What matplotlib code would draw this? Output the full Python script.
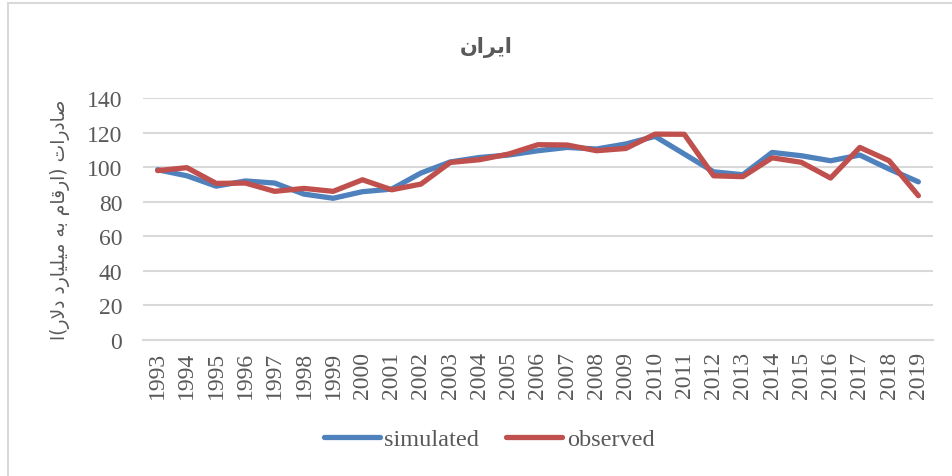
import matplotlib

matplotlib.use("Agg")
import matplotlib.pyplot as plt
from matplotlib.patches import Rectangle

years = [str(y) for y in range(1993, 2020)]
simulated = [98.5, 95, 89, 92, 90.8, 84.4, 82, 85.8, 87.3, 96.6, 103, 105.6, 107,
             109.5, 111.4, 110.5, 113.4, 117.8, 107.6, 97.3, 95.6, 108.5, 106.6,
             103.7, 107, 98.9, 91.5]
observed = [98, 99.7, 90.6, 90.8, 86, 87.7, 86, 92.7, 86.9, 90.2, 102.7, 104.3,
            107.6, 113, 112.8, 109.5, 110.8, 119.1, 119, 95, 94.5, 105.4, 102.8,
            93.7, 111.4, 103.7, 83.5]
y_ticks = [0, 20, 40, 60, 80, 100, 120, 140]

title = "ایران"
ylabel = "صادرات (ارقام به میلیارد دلار)ا"

# matplotlib does no Arabic shaping, so map letters to presentation forms
# (isolated, final, initial, medial) and lay them out in visual order
FORMS = {
    "ا": ("\uFE8D", "\uFE8E", None, None),
    "ب": ("\uFE8F", "\uFE90", "\uFE91", "\uFE92"),
    "ت": ("\uFE95", "\uFE96", "\uFE97", "\uFE98"),
    "د": ("\uFEA9", "\uFEAA", None, None),
    "ر": ("\uFEAD", "\uFEAE", None, None),
    "ص": ("\uFEB9", "\uFEBA", "\uFEBB", "\uFEBC"),
    "ق": ("\uFED5", "\uFED6", "\uFED7", "\uFED8"),
    "ل": ("\uFEDD", "\uFEDE", "\uFEDF", "\uFEE0"),
    "م": ("\uFEE1", "\uFEE2", "\uFEE3", "\uFEE4"),
    "ن": ("\uFEE5", "\uFEE6", "\uFEE7", "\uFEE8"),
    "ه": ("\uFEE9", "\uFEEA", "\uFEEB", "\uFEEC"),
    "ی": ("\uFBFC", "\uFBFD", "\uFBFE", "\uFBFF"),
}


def shape(text):
    out = []
    i = 0
    n = len(text)
    while i < n:
        ch = text[i]
        if ch not in FORMS:
            out.append({"(": ")", ")": "("}.get(ch, ch))
            i += 1
            continue
        prev = text[i - 1] if i > 0 else ""
        joins_prev = prev in FORMS and FORMS[prev][2] is not None
        if ch == "ل" and i + 1 < n and text[i + 1] == "ا":
            out.append("\uFEFC" if joins_prev else "\uFEFB")
            i += 2
            continue
        nxt = text[i + 1] if i + 1 < n else ""
        joins_next = FORMS[ch][2] is not None and nxt in FORMS
        iso, fin, ini, med = FORMS[ch]
        if joins_prev and joins_next:
            out.append(med)
        elif joins_prev:
            out.append(fin)
        elif joins_next:
            out.append(ini)
        else:
            out.append(iso)
        i += 1
    return "".join(reversed(out))


plt.rcParams["font.family"] = ["Liberation Serif", "DejaVu Sans"]
text_color = "#595959"
grid_color = "#D9D9D9"

fig = plt.figure(figsize=(9.52, 4.77), dpi=100)
ax = fig.add_axes([143 / 952, 136 / 477, 790 / 952, 242 / 477])

x = range(len(years))
ax.plot(x, simulated, color="#4F81BD", lw=3.8, label="simulated",
        solid_joinstyle="round", solid_capstyle="round")
ax.plot(x, observed, color="#C0504D", lw=3.8, label="observed",
        solid_joinstyle="round", solid_capstyle="round")

ax.set_xlim(-0.5, len(years) - 0.5)
ax.set_ylim(0, 140)
ax.set_yticks(y_ticks)
ax.set_xticks(list(x))
ax.set_xticklabels(years, rotation=90)
ax.tick_params(axis="both", length=0, labelsize=17, labelcolor=text_color)
ax.tick_params(axis="y", pad=15)
ax.tick_params(axis="x", pad=8)
ax.grid(axis="y", color=grid_color, lw=1.5)
ax.set_axisbelow(True)
for side in ["top", "right", "left"]:
    ax.spines[side].set_visible(False)
ax.spines["bottom"].set_color(grid_color)
ax.spines["bottom"].set_linewidth(1.5)

ax.set_ylabel(shape(ylabel), fontsize=13.5, color=text_color, labelpad=12,
              family=["DejaVu Sans"])
fig.text(486 / 952, 1 - 47 / 477, shape(title), fontsize=15, fontweight="bold",
         color=text_color, ha="center", va="center", family=["DejaVu Sans"])

fig.legend(loc="center", bbox_to_anchor=(489 / 952, 1 - 440 / 477), ncol=2,
           frameon=False, fontsize=17.5, labelcolor=text_color, handlelength=2.3,
           handletextpad=0.2, columnspacing=1.1)

# outer chart frame (cropped at right and bottom in the reference)
fig.patches.append(Rectangle((8 / 952, -0.1), 1.1, 1 - 4 / 477 + 0.1,
                             transform=fig.transFigure, fill=False,
                             edgecolor=grid_color, lw=1.5))

fig.savefig("out.png", dpi=100)
